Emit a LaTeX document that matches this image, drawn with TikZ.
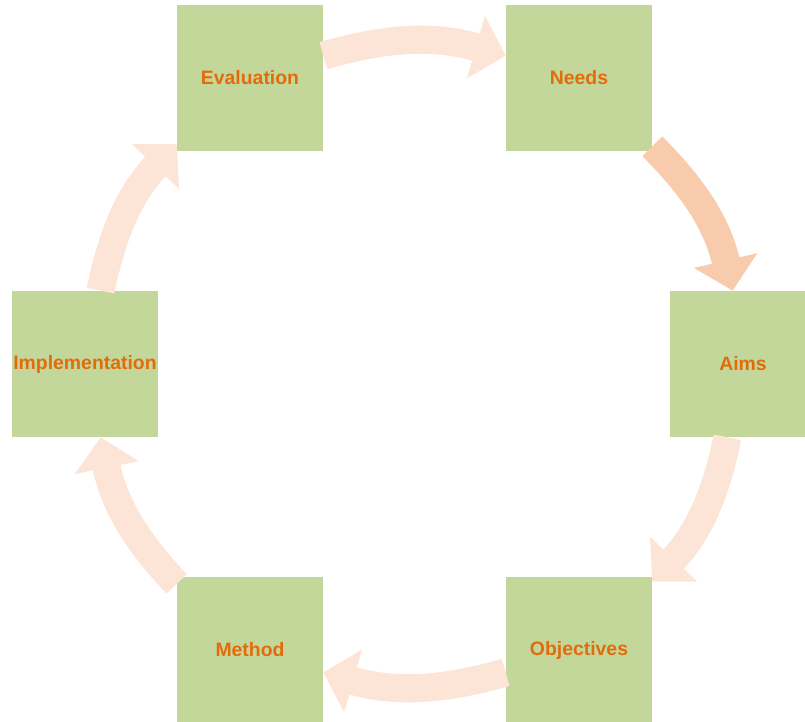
\documentclass[tikz,border=0pt]{standalone}
\usepackage{fontspec}
\setsansfont{Liberation Sans}
\usetikzlibrary{arrows.meta}
\definecolor{boxgreen}{HTML}{C4D79B}
\definecolor{labelorange}{HTML}{E36C0A}
\definecolor{peach}{HTML}{FCE4D6}
\definecolor{darkpeach}{HTML}{F8CBAD}
\begin{document}
\begin{tikzpicture}[x=0.025cm, y=0.025cm,
        font=\fontsize{13.8}{16}\selectfont\sffamily\bfseries,
        box/.style={fill=boxgreen, minimum size=3.65cm, inner sep=0pt, text=labelorange},
        cyc/.style={draw=peach, line width=20pt, -{Triangle[length=22pt,width=45pt]}}]
        \useasboundingbox (0,0) rectangle (805,722);
        \clip (0,0) rectangle (805,722);

        \foreach \n/\x/\y/\t in {ev/250/644/Evaluation, nd/579/644/Needs,
                am/743/358/Aims, ob/579/72/Objectives,
                mt/250/72/Method, im/85/358/Implementation}
            \node[box] (\n) at (\x,\y) {\t};

        \draw[cyc, draw=darkpeach] (nd.-43) to[bend left=16] (am.98);
        \foreach \a/\b in {am.258/ob.43, ob.197/mt.-17, mt.138/im.-78,
                im.78/ev.222, ev.17/nd.163}
            \draw[cyc] (\a) to[bend left=16] (\b);
    \end{tikzpicture}
\end{document}
